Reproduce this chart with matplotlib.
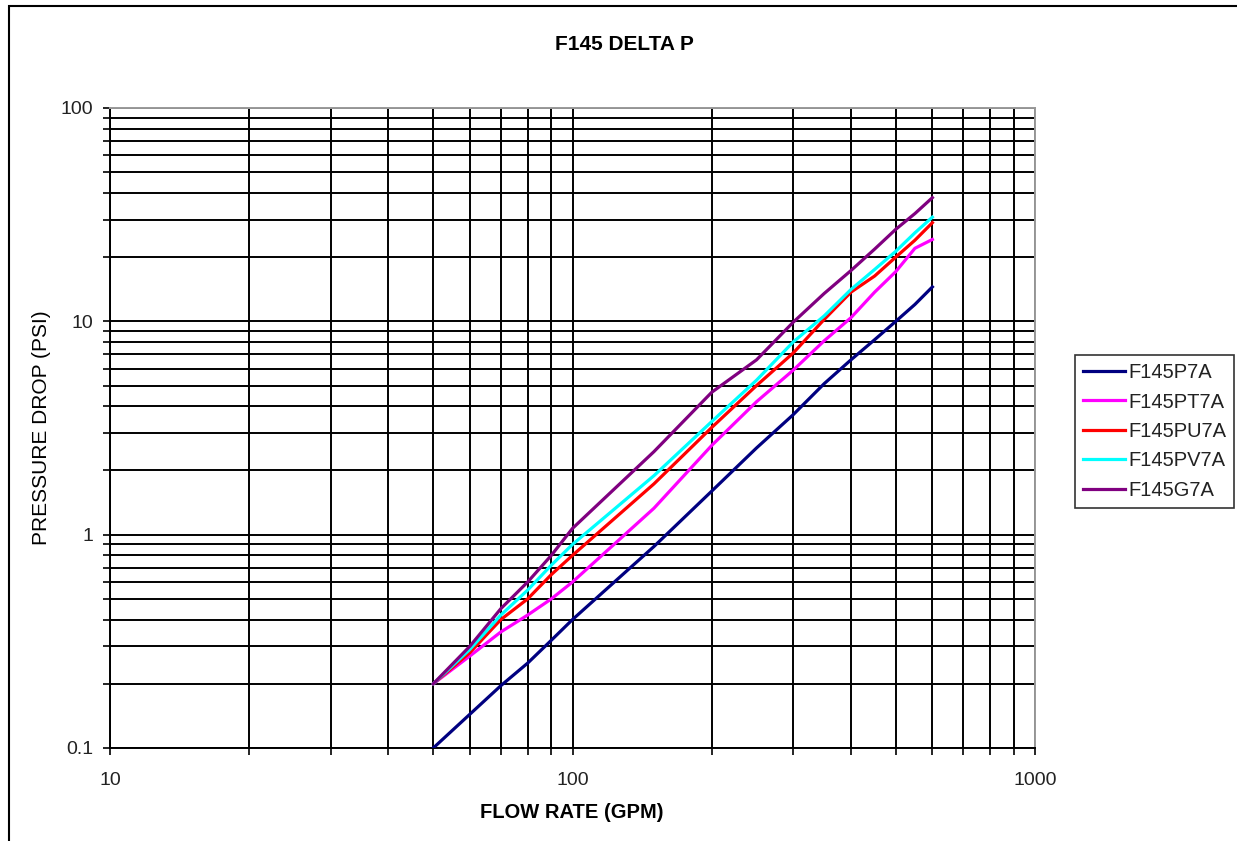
import matplotlib
matplotlib.use('Agg')
import matplotlib.pyplot as plt
from matplotlib.ticker import LogLocator, NullFormatter, FuncFormatter
import matplotlib.patches as mpatches

plt.rcParams['font.family'] = ['Liberation Sans', 'DejaVu Sans']

# ---- data ----
flow = [50, 60, 70, 80, 90, 100, 150, 200, 250, 300, 350, 400, 450, 500, 550, 600]
f145p7a = [0.1, 0.144, 0.196, 0.25, 0.32, 0.4, 0.88, 1.6, 2.55, 3.65, 5.1, 6.6, 8.2, 10.0, 12.0, 14.5]
f145pt7a = [0.2, 0.27, 0.35, 0.42, 0.5, 0.6, 1.33, 2.62, 4.2, 5.9, 8.1, 10.4, 13.7, 17.1, 22.0, 24.2]
f145pu7a = [0.2, 0.28, 0.4, 0.5, 0.65, 0.8, 1.73, 3.18, 5.0, 7.1, 10.2, 13.7, 16.3, 20.0, 24.0, 29.0]
f145pv7a = [0.2, 0.29, 0.42, 0.55, 0.72, 0.9, 1.89, 3.39, 5.3, 8.0, 10.6, 14.1, 17.5, 21.3, 26.0, 30.8]
f145g7a = [0.2, 0.3, 0.45, 0.6, 0.8, 1.07, 2.45, 4.65, 6.6, 9.9, 13.5, 17.3, 21.8, 27.0, 32.0, 38.0]

series_names = ['F145P7A', 'F145PT7A', 'F145PU7A', 'F145PV7A', 'F145G7A']
series_values = [f145p7a, f145pt7a, f145pu7a, f145pv7a, f145g7a]
series_colors = ['#000080', '#FF00FF', '#FF0000', '#00FFFF', '#800080']

title = 'F145 DELTA P'
xlabel = 'FLOW RATE (GPM)'
ylabel = 'PRESSURE DROP (PSI)'

W, H = 1237, 841
fig = plt.figure(figsize=(W / 100, H / 100), dpi=100)
ax = fig.add_axes([110 / W, 1 - 748 / H, 925 / W, 640 / H])

for name, vals, col in zip(series_names, series_values, series_colors):
    ax.plot(flow, vals, color=col, lw=2.3, label=name, zorder=3, solid_joinstyle='round')

ax.set_xscale('log')
ax.set_yscale('log')
ax.set_xlim(10, 1000)
ax.set_ylim(0.1, 100)

for axis in (ax.xaxis, ax.yaxis):
    axis.set_major_locator(LogLocator(base=10, numticks=10))
    axis.set_minor_locator(LogLocator(base=10, subs=range(2, 10), numticks=30))
    axis.set_minor_formatter(NullFormatter())
    axis.set_major_formatter(FuncFormatter(lambda v, p: ('%g' % v)))

ax.grid(which='both', color='black', lw=1.4)
ax.tick_params(which='both', direction='out', length=5, width=1.2, color='black',
               labelsize=14, labelcolor='#222222')
ax.tick_params(axis='x', which='both', pad=12)
ax.tick_params(axis='y', which='both', pad=7)

for s in ('top', 'right'):
    ax.spines[s].set_color('#999999')
    ax.spines[s].set_linewidth(1.4)
for s in ('left', 'bottom'):
    ax.spines[s].set_color('black')
    ax.spines[s].set_linewidth(1.4)

fig.text(624 / W, 1 - 44 / H, title, ha='center', va='center', fontsize=15, fontweight='bold')
fig.text(572 / W, 1 - 812 / H, xlabel, ha='center', va='center', fontsize=14.5, fontweight='bold')
fig.text(42 / W, 1 - 428 / H, ylabel, ha='center', va='center', rotation=90, fontsize=15)

leg = ax.legend(loc='upper left', bbox_to_anchor=(1075 / W, 1 - 355 / H),
                bbox_transform=fig.transFigure, frameon=True, fancybox=False,
                edgecolor='black', fontsize=14.5, handlelength=2.1, handletextpad=0.15,
                labelspacing=0.52, borderpad=0.4, borderaxespad=0)
leg.get_frame().set_linewidth(1.2)
for t in leg.get_texts():
    t.set_color('#222222')

fig.add_artist(mpatches.Rectangle((9 / W, -0.05), 1.2, (H - 6) / H + 0.05,
                                  transform=fig.transFigure, fill=False,
                                  edgecolor='black', lw=1.5))

fig.savefig('out.png', dpi=100)
